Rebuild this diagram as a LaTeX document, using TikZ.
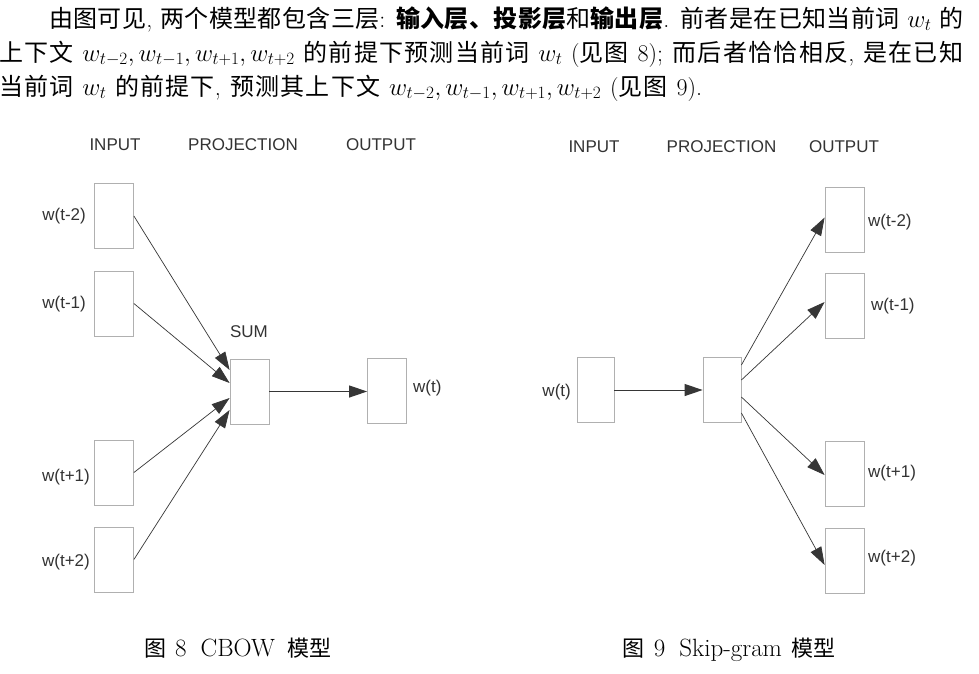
\documentclass[tikz,border=0pt]{standalone}
\usepackage{fontspec}
\newfontfamily\cjkfont[Scale=1.0]{Noto Sans CJK SC}
\newfontfamily\labfont{Liberation Sans}
\usetikzlibrary{arrows.meta}
\makeatletter
\newcommand\zh[1]{{\cjkfont\let\zh@sep\relax\@tfor\zh@c:=#1\do{\zh@sep\zh@c\def\zh@sep{\hskip0pt plus 3pt\relax}}}}
\newcommand\zhb[1]{{\cjkfont\bfseries\let\zh@sep\relax\@tfor\zh@c:=#1\do{\zh@sep\zh@c\def\zh@sep{\hskip0pt plus 3pt\relax}}}}
\makeatother
\newcommand\capzh[1]{{\fontsize{22}{30}\selectfont\zh{#1}}}
\definecolor{boxgray}{HTML}{B0B0B0}
\definecolor{linegray}{HTML}{363636}
\definecolor{labgray}{HTML}{333333}
\begin{document}
\begin{tikzpicture}[x=1pt,y=-1pt,
  bodytext/.style={inner sep=0pt,anchor=base west,font=\fontsize{24}{30}\selectfont},
  captext/.style={inner sep=0pt,anchor=base,font=\fontsize{25}{30}\selectfont},
  vecbox/.style={draw=boxgray,line width=0.8pt,inner sep=0pt,minimum width=39pt,minimum height=65pt},
  lab/.style={inner sep=0pt,text=labgray,font=\labfont\fontsize{17}{20}\selectfont},
  arr/.style={draw=linegray,line width=0.7pt,-{Triangle[length=18pt,width=12pt]}},
  harr/.style={arr,line width=1pt}]
\useasboundingbox (0,0) rectangle (979,673);
\fill[white] (0,0) rectangle (979,673);

% ---------- paragraph ----------
\node[bodytext] (line1) at (49,27) {\makebox[914pt][s]{\zh{由图可见}, \zh{两个模型都包含三层}: \zhb{输入层、投影层}\zh{和}\zhb{输出层}. \zh{前者是在已知当前词} $w_t$ \zh{的}}};
\node[bodytext] (line2) at (-1,61) {\makebox[964pt][s]{\zh{上下文} $w_{t-2},w_{t-1},w_{t+1},w_{t+2}$ \zh{的前提下预测当前词} $w_t$ (\zh{见图} 8); \zh{而后者恰恰相反}, \zh{是在已知}}};
\node[bodytext] (line3) at (-1,95) {\makebox[703pt][s]{\zh{当前词} $w_t$ \zh{的前提下}, \zh{预测其上下文} $w_{t-2},w_{t-1},w_{t+1},w_{t+2}$ (\zh{见图} 9).}};

% ---------- CBOW ----------
\node[lab] (hin1) at (115,145) {INPUT};
\node[lab] (hproj1) at (243,145) {PROJECTION};
\node[lab] (hout1) at (381,145) {OUTPUT};

\node[vecbox] (i1) at (114,216) {};
\node[vecbox] (i2) at (114,303.5) {};
\node[vecbox] (i3) at (114,472.5) {};
\node[vecbox] (i4) at (114,559.5) {};
\node[lab,anchor=east] (li1) at (86,216) {w(t-2)};
\node[lab,anchor=east] (li2) at (86,304) {w(t-1)};
\node[lab,anchor=east] (li3) at (90,477) {w(t+1)};
\node[lab,anchor=east] (li4) at (90,562) {w(t+2)};

\node[vecbox] (sum) at (249.5,391.5) {};
\node[lab] (lsum) at (249,332) {SUM};
\node[vecbox] (o0) at (387,390.5) {};
\node[lab,anchor=west] (lo0) at (413,388) {w(t)};

\draw[arr] (i1.east) -- ([yshift=21.5pt]sum.west);
\draw[arr] (i2.east) -- ([yshift=8.5pt]sum.west);
\draw[arr] (i3.east) -- ([yshift=-6.5pt]sum.west);
\draw[arr] (i4.east) -- ([yshift=-18.5pt]sum.west);
\draw[harr] (sum.east) -- (sum.east -| o0.west);

\node[captext] (cap8) at (238,656) {\capzh{图}\hspace{9pt}8\hspace{14pt}CBOW\hspace{13pt}\capzh{模型}};

% ---------- Skip-gram ----------
\node[lab] (hin2) at (594,147) {INPUT};
\node[lab] (hproj2) at (721.5,147) {PROJECTION};
\node[lab] (hout2) at (844,147) {OUTPUT};

\node[vecbox,minimum width=37pt] (in) at (595.5,390) {};
\node[lab,anchor=east] (lin) at (571,392) {w(t)};
\node[vecbox,minimum width=38pt] (proj) at (722,390) {};

\node[vecbox] (p1) at (844.5,219.5) {};
\node[vecbox] (p2) at (844.5,306) {};
\node[vecbox] (p3) at (844.5,473.5) {};
\node[vecbox] (p4) at (844.5,560.5) {};
\node[lab,anchor=west] (lp1) at (868,222) {w(t-2)};
\node[lab,anchor=west] (lp2) at (871,306) {w(t-1)};
\node[lab,anchor=west] (lp3) at (868,473) {w(t+1)};
\node[lab,anchor=west] (lp4) at (868,558) {w(t+2)};

\draw[harr] (in.east) -- (proj.west);
\draw[arr] ([yshift=25pt]proj.east) -- ([yshift=2pt]p1.west);
\draw[arr] ([yshift=10pt]proj.east) -- ([yshift=4pt]p2.west);
\draw[arr] ([yshift=-7pt]proj.east) -- ([yshift=-1.5pt]p3.west);
\draw[arr] ([yshift=-23pt]proj.east) -- ([yshift=-4.5pt]p4.west);

\node[captext] (cap9) at (729,656) {\capzh{图}\hspace{9pt}9\hspace{14pt}Skip-gram\hspace{9pt}\capzh{模型}};
\end{tikzpicture}
\end{document}
